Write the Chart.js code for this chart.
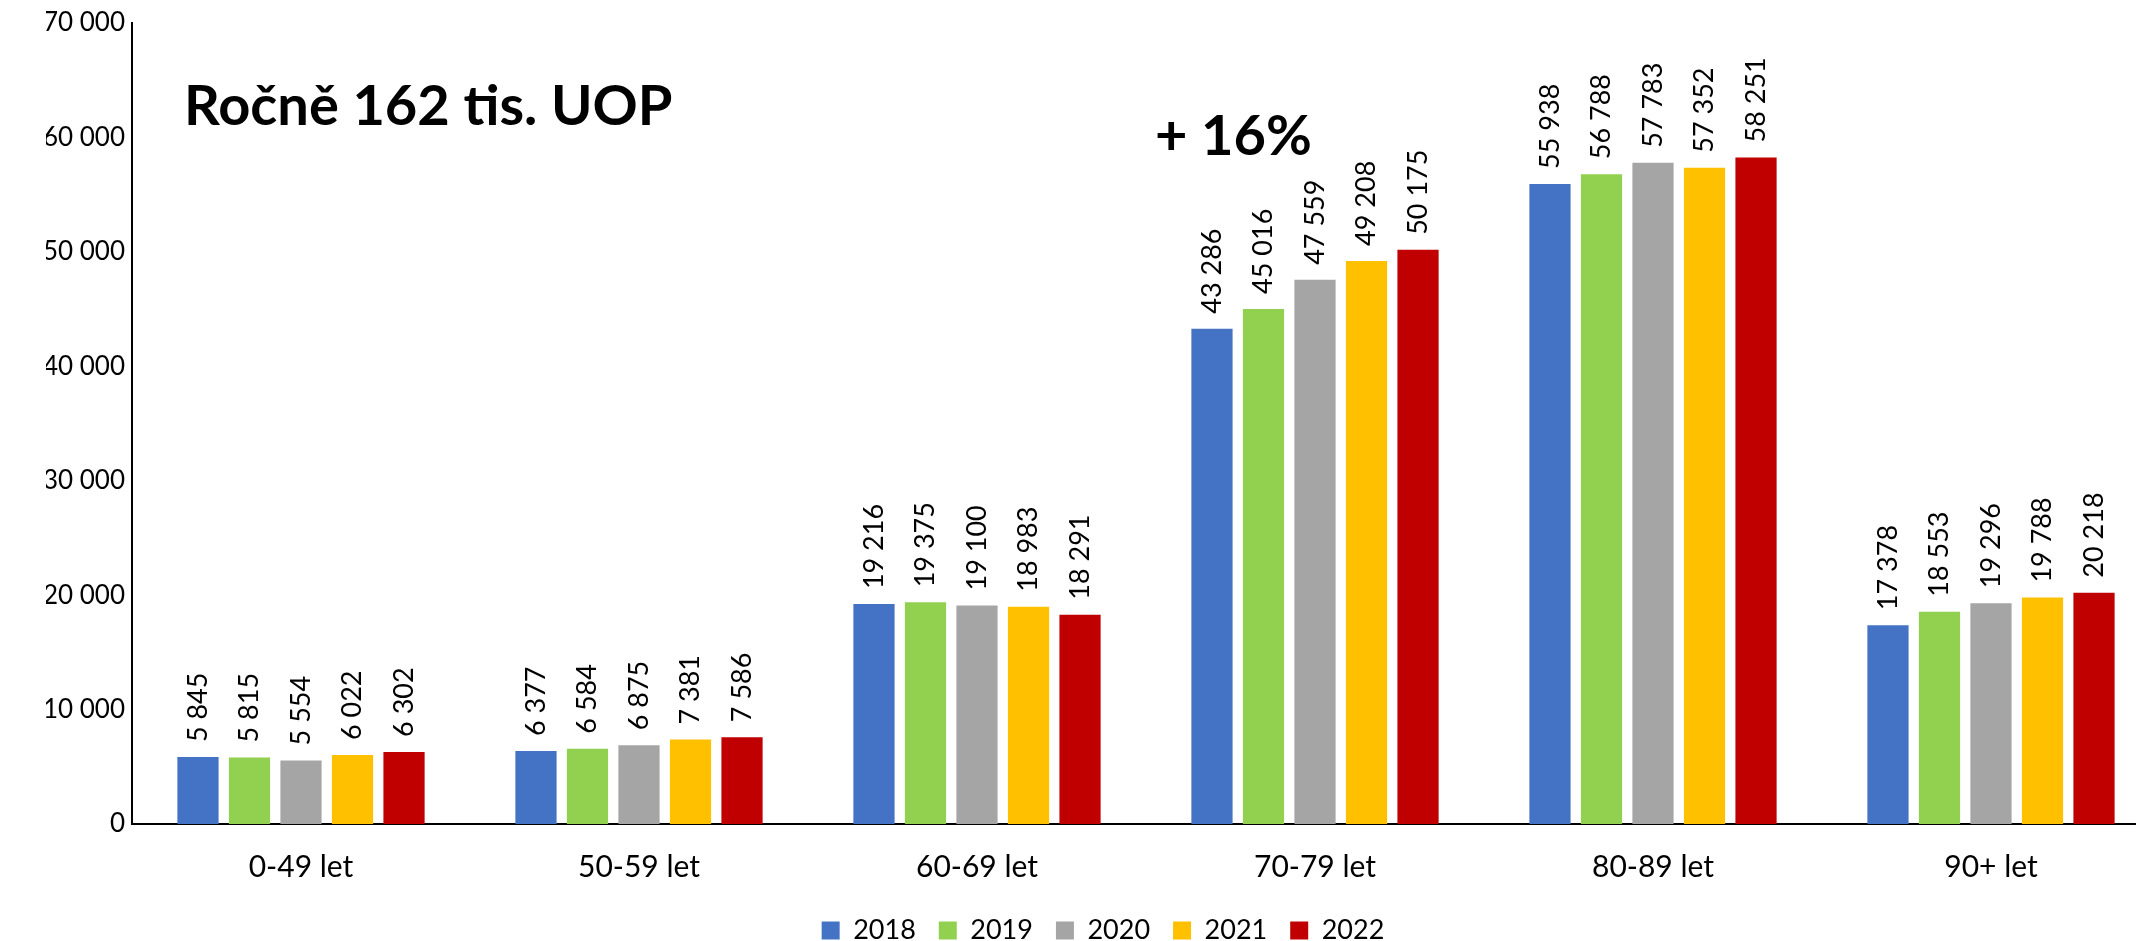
<!DOCTYPE html>
<html lang="cs">
<head>
<meta charset="utf-8">
<title>UOP podle věku</title>
<script src="https://cdn.jsdelivr.net/npm/chart.js@4/dist/chart.umd.min.js"></script>
<style>
  html, body { margin: 0; padding: 0; background: #fff; overflow: hidden; }
  #wrap { width: 2136px; height: 941px; overflow: hidden; }
  canvas { display: block; }
</style>
</head>
<body>
<div id="wrap"><canvas id="c" width="2160" height="941"></canvas></div>
<script>
// age groups and yearly counts
const AGE_GROUPS = ["0-49 let", "50-59 let", "60-69 let", "70-79 let", "80-89 let", "90+ let"];
const YEARS = ["2018", "2019", "2020", "2021", "2022"];
const V2018 = [5845, 6377, 19216, 43286, 55938, 17378];
const V2019 = [5815, 6584, 19375, 45016, 56788, 18553];
const V2020 = [5554, 6875, 19100, 47559, 57783, 19296];
const V2021 = [6022, 7381, 18983, 49208, 57352, 19788];
const V2022 = [6302, 7586, 18291, 50175, 58251, 20218];
const COLORS = ["#4472C4", "#92D050", "#A5A5A5", "#FFC000", "#C00000"];
const Y_MAX = 70000, Y_STEP = 10000;

const FONT = "Lato, 'Noto Sans', sans-serif";
Chart.defaults.font.family = FONT;
Chart.defaults.color = "#000";

// "12 345" style thousands
const fmt = v => String(v).replace(/\B(?=(\d{3})+(?!\d))/g, " ");

// value labels, rotated, sitting just above each bar
const barLabels = {
  id: "barLabels",
  afterDatasetsDraw(chart) {
    const ctx = chart.ctx;
    ctx.save();
    ctx.fillStyle = "#000";
    ctx.font = "27px " + FONT;
    ctx.textAlign = "left";
    ctx.textBaseline = "middle";
    chart.data.datasets.forEach((ds, di) => {
      chart.getDatasetMeta(di).data.forEach((bar, i) => {
        ctx.save();
        ctx.translate(bar.x, bar.y - 15);
        ctx.rotate(-Math.PI / 2);
        ctx.fillText(fmt(ds.data[i]), 0, 0);
        ctx.restore();
      });
    });
    ctx.restore();
  }
};

// headline texts inside the plot
const notes = {
  id: "notes",
  afterDraw(chart) {
    const ctx = chart.ctx;
    ctx.save();
    ctx.fillStyle = "#000";
    ctx.font = "bold 56px " + FONT;
    ctx.textAlign = "left";
    ctx.textBaseline = "alphabetic";
    ctx.fillText("Ročně 162 tis. UOP", 184, 125);
    ctx.fillText("+ 16%", 1155, 155);
    ctx.restore();
  }
};

const series = [V2018, V2019, V2020, V2021, V2022];

new Chart(document.getElementById("c"), {
  type: "bar",
  data: {
    labels: AGE_GROUPS,
    datasets: YEARS.map((y, i) => ({
      label: y,
      data: series[i],
      backgroundColor: COLORS[i],
      borderWidth: 0,
      categoryPercentage: 0.762,
      barPercentage: 0.80,
    })),
  },
  options: {
    responsive: false,
    animation: false,
    devicePixelRatio: 1,
    layout: { padding: { top: 23, left: 46, right: 0, bottom: -13 } },
    plugins: {
      legend: {
        position: "bottom",
        labels: { boxWidth: 18, boxHeight: 18, padding: 23, font: { size: 27 }, color: "#000" },
      },
      tooltip: { enabled: false },
    },
    scales: {
      x: {
        grid: { display: false },
        border: { display: true, color: "#000", width: 2 },
        ticks: { font: { size: 30 }, padding: 17, color: "#000" },
        afterFit(s) { s.height = 70; },
      },
      y: {
        min: 0, max: Y_MAX,
        grid: { display: false, drawTicks: false },
        border: { display: true, color: "#000", width: 2 },
        ticks: { stepSize: Y_STEP, font: { size: 26 }, padding: 7, color: "#000", callback: v => fmt(v) },
        afterFit(s) { s.width = 86; },
      },
    },
  },
  plugins: [barLabels, notes],
});
</script>
</body>
</html>
